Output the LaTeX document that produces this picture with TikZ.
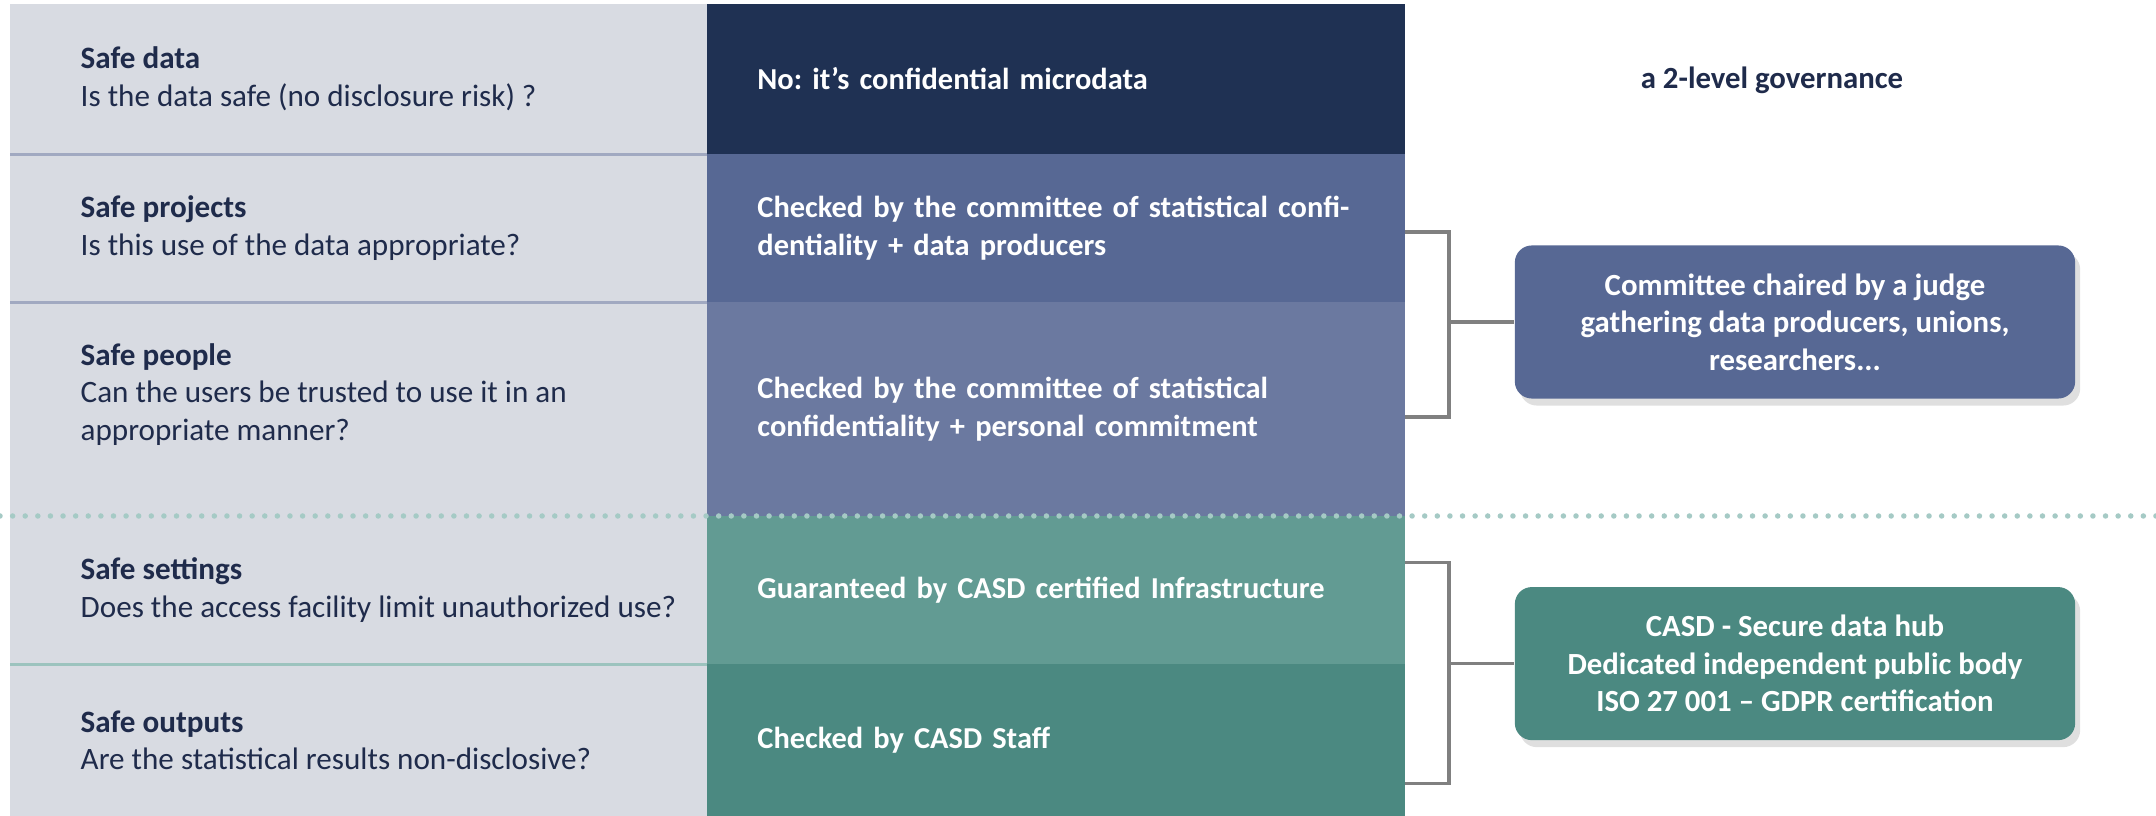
\documentclass[tikz,border=0pt]{standalone}
\usepackage{fontspec}
\setmainfont{Carlito}
\frenchspacing
\usetikzlibrary{positioning, shadows}
\definecolor{colorPanel}{HTML}{D8DBE2}
\definecolor{colorInk}{HTML}{1F2B4B}
\definecolor{colorData}{HTML}{1F3153}
\definecolor{colorProject}{HTML}{576894}
\definecolor{colorPeople}{HTML}{6B79A0}
\definecolor{colorSetting}{HTML}{629B93}
\definecolor{colorOutput}{HTML}{4B8981}
\definecolor{colorBracket}{HTML}{808080}
\definecolor{colorRuleBlue}{HTML}{A1A9C1}
\definecolor{colorRuleTeal}{HTML}{9CC3BE}
\definecolor{colorDots}{HTML}{A5CAC5}
\tikzset{
  qcell/.style={rectangle, fill=colorPanel, minimum width=6.97cm, inner sep=0pt, outer sep=0pt},
  qtext/.style={align=left, text=colorInk, inner sep=0pt, font=\fontsize{8.85pt}{10.7pt}\selectfont},
  acell/.style={rectangle, minimum width=6.97cm, text width=5.97cm, inner xsep=0.5cm, inner ysep=0pt, outer sep=0pt, align=left, text=white, font=\bfseries\fontsize{8.65pt}{10.7pt}\selectfont},
  govbox/.style={rectangle, rounded corners=0.17cm, minimum width=5.6cm, minimum height=1.53cm, align=center, text=white, font=\bfseries\fontsize{8.75pt}{10.7pt}\selectfont, drop shadow={shadow xshift=0.05cm, shadow yshift=-0.07cm, opacity=0.25}},
  bracket/.style={draw=colorBracket, line width=0.035cm},
  qsep/.style={line width=0.03cm},
  dotline/.style={draw=colorDots, line width=0.055cm, dash pattern=on 0pt off 0.126cm, line cap=round}
}
\begin{document}
\begin{tikzpicture}[x=0.01cm, y=-0.01cm]
\useasboundingbox[fill=white] (0,0) rectangle (2156,816);
% left column: the five safes
\node[qcell, anchor=north west, minimum height=1.50cm] (q1) at (10,4) {};
\node[qcell, below=0pt of q1, minimum height=1.48cm] (q2) {};
\node[qcell, below=0pt of q2, minimum height=2.14cm] (q3) {};
\node[qcell, below=0pt of q3, minimum height=1.48cm] (q4) {};
\node[qcell, below=0pt of q4, minimum height=1.52cm] (q5) {};
\node[qtext, right=0.7cm of q1.west] (t1) {\textbf{Safe data}\\Is the data safe (no disclosure risk) ?};
\node[qtext, right=0.7cm of q2.west] (t2) {\textbf{Safe projects}\\Is this use of the data appropriate?};
\node[qtext, right=0.7cm of q3.west, yshift=0.15cm] (t3) {\textbf{Safe people}\\Can the users be trusted to use it in an\\appropriate manner?};
\node[qtext, right=0.7cm of q4.west] (t4) {\textbf{Safe settings}\\Does the access facility limit unauthorized use?};
\node[qtext, right=0.7cm of q5.west] (t5) {\textbf{Safe outputs}\\Are the statistical results non-disclosive?};
\draw[qsep, colorRuleBlue] (q1.south west) -- (q1.south east);
\draw[qsep, colorRuleBlue] (q2.south west) -- (q2.south east);
\draw[qsep, colorRuleTeal] (q4.south west) -- (q4.south east);
% middle column: answers
\node[acell, fill=colorData, right=0pt of q1, minimum height=1.50cm] (a1) {No: it’s confidential microdata};
\node[acell, fill=colorProject, right=0pt of q2, minimum height=1.48cm] (a2) {Checked by the committee of statistical confi-\\dentiality + data producers};
\node[acell, fill=colorPeople, right=0pt of q3, minimum height=2.14cm] (a3) {Checked by the committee of statistical\\confidentiality + personal commitment};
\node[acell, fill=colorSetting, right=0pt of q4, minimum height=1.48cm] (a4) {Guaranteed by CASD certified Infrastructure};
\node[acell, fill=colorOutput, right=0pt of q5, minimum height=1.52cm] (a5) {Checked by CASD Staff};
% split between the two levels
\coordinate (dl) at (0,516);
\coordinate (dr) at (2156,516);
\draw[dotline] (dl) -- (dr);
% right side: governance
\node[font=\bfseries\fontsize{8.75pt}{10.7pt}\selectfont, text=colorInk] (level) at (1772,80) {a 2-level governance};
\node[govbox, fill=colorProject] (committee) at (1795,322) {Committee chaired by a judge\\gathering data producers, unions,\\researchers...};
\node[govbox, fill=colorOutput, below=1.87cm of committee] (casd) {CASD - Secure data hub\\Dedicated independent public body\\ISO 27 001 – GDPR certification};
\draw[bracket] ([yshift=-0.04cm]a2.east) -- ++(44,0) coordinate (b1) |- ([yshift=-0.08cm]a3.east);
\draw[bracket] (committee.west) -- (committee.west -| b1);
\draw[bracket] ([yshift=0.28cm]a4.east) -- ++(44,0) coordinate (b2) |- ([yshift=-0.43cm]a5.east);
\draw[bracket] (casd.west) -- (casd.west -| b2);
\end{tikzpicture}
\end{document}
